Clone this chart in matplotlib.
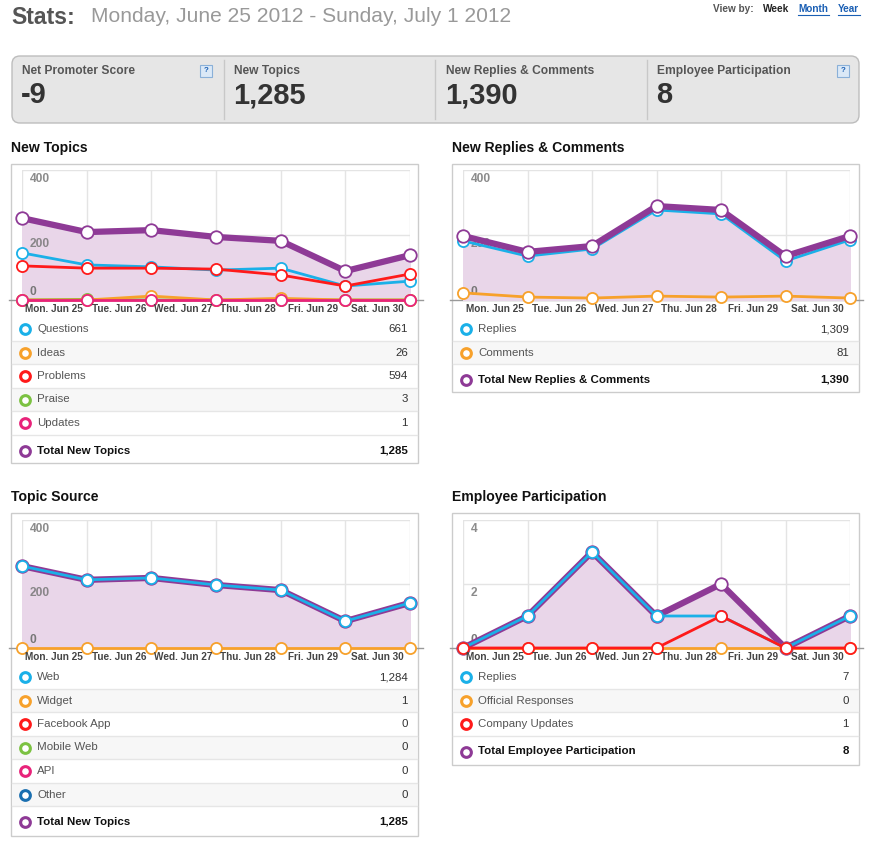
import matplotlib
matplotlib.use("Agg")
import matplotlib.pyplot as plt
from matplotlib.patches import FancyBboxPatch, Rectangle

plt.rcParams['font.family'] = ['Liberation Sans', 'DejaVu Sans']

W, H = 873, 852
days = ["Mon. Jun 25", "Tue. Jun 26", "Wed. Jun 27", "Thu. Jun 28", "Fri. Jun 29", "Sat. Jun 30"]

kpi_labels = ["Net Promoter Score", "New Topics", "New Replies & Comments", "Employee Participation"]
kpi_values = ["-9", "1,285", "1,390", "8"]

# New Topics
nt_total = [252, 209, 215, 194, 182, 89, 138]
nt_questions = [145, 108, 102, 92, 98, 43, 58]
nt_problems = [105, 98, 98, 95, 77, 43, 80]
nt_ideas = [0, 0, 12, 0, 5, 0, 0]
nt_praise = [0, 2, 0, 0, 0, 0, 0]
nt_updates = [0, 0, 0, 0, 0, 0, 0]
nt_names = ["Questions", "Ideas", "Problems", "Praise", "Updates"]
nt_counts = ["661", "26", "594", "3", "1"]

# New Replies & Comments
rc_total = [197, 148, 166, 289, 277, 135, 197]
rc_replies = [182, 135, 157, 277, 265, 120, 185]
rc_comments = [22, 9, 6, 12, 9, 12, 6]
rc_names = ["Replies", "Comments"]
rc_counts = ["1,309", "81"]

# Topic Source
ts_web = [256, 213, 219, 197, 181, 84, 141]
ts_zero = [0, 0, 0, 0, 0, 0, 0]
ts_names = ["Web", "Widget", "Facebook App", "Mobile Web", "API", "Other"]
ts_counts = ["1,284", "1", "0", "0", "0", "0"]

# Employee Participation
ep_total = [0, 1, 3, 1, 2, 0, 1]
ep_replies = [0, 1, 3, 1, 1, 0, 1]
ep_official = [0, 0, 0, 0, 0, 0, 0]
ep_company = [0, 0, 0, 0, 1, 0, 0]
ep_names = ["Replies", "Official Responses", "Company Updates"]
ep_counts = ["7", "0", "1"]

C_BLUE, C_ORANGE, C_RED, C_GREEN, C_PINK, C_PURPLE, C_DBLUE = (
    "#1ab0e8", "#f7a12b", "#ff1a1a", "#7cc242", "#e8237a", "#8e3a96", "#1a6fb0")
FILL = "#e9d6e9"

fig = plt.figure(figsize=(W / 100, H / 100), dpi=100)
bg = fig.add_axes([0, 0, 1, 1])
bg.set_xlim(0, W)
bg.set_ylim(H, 0)
bg.axis("off")


def pt(px):
    return px * 0.72


def add_px_axes(x0, y0, x1, y1):
    return fig.add_axes([x0 / W, 1 - y1 / H, (x1 - x0) / W, (y1 - y0) / H])


# header
bg.text(11, 17, "Stats:", fontsize=pt(23), fontweight="bold", color="#555555", va="center")
bg.text(91, 17, "Monday, June 25 2012 - Sunday, July 1 2012", fontsize=pt(21), color="#999999", va="center")
bg.text(713, 9, "View by:", fontsize=pt(10), fontweight="bold", color="#555555", va="center")
bg.text(763, 9, "Week", fontsize=pt(10), fontweight="bold", color="#222222", va="center")
for x0, x1, lab in [(798, 829, "Month"), (838, 860, "Year")]:
    bg.text(x0, 9, lab, fontsize=pt(10), fontweight="bold", color="#1a5fb4", va="center")
    bg.plot([x0, x1], [15, 15], color="#1a5fb4", lw=0.8)

# KPI box
bg.add_patch(FancyBboxPatch((12, 56), 847, 67, boxstyle="round,pad=0,rounding_size=8",
                            fc="#e6e6e6", ec="#bdbdbd", lw=1))
for x in [224, 435, 647]:
    bg.plot([x, x], [60, 119], color="#c8c8c8", lw=1)
for x, lab, val in zip([22, 234, 446, 657], kpi_labels, kpi_values):
    bg.text(x, 71, lab, fontsize=pt(12), fontweight="bold", color="#555555", va="center")
    bg.text(x - 1, 95, val, fontsize=pt(29), fontweight="bold", color="#333333", va="center")
for x in [206, 843]:
    bg.add_patch(Rectangle((x - 6, 65), 12, 12, fc="#dbe9f7", ec="#8ab0d8", lw=0.8))
    bg.text(x, 71, "?", fontsize=pt(8), fontweight="bold", color="#1a5fb4", ha="center", va="center")


def panel(title, bx0, by0, bx1, by1, ax_rect, ymax, yticks, series, rows,
          total_label, total_value, total_on_top=True):
    bg.text(bx0, by0 - 16, title, fontsize=pt(14), fontweight="bold", color="#111111", va="center")
    bg.add_patch(Rectangle((bx0, by0), bx1 - bx0, by1 - by0, fc="white", ec="#cccccc", lw=1))
    ax = add_px_axes(*ax_rect)
    ax.set_xlim(0, 6)
    ax.set_ylim(0, ymax)
    ax.axis("off")
    for i in range(7):
        ax.axvline(i, color="#e4e4e4", lw=1, zorder=0)
    for t in yticks[1:]:
        ax.axhline(t, color="#e4e4e4", lw=1, zorder=0)
        ax.text(0.12, t - ymax * 0.02, str(t), fontsize=pt(12), fontweight="bold",
                color="#777777", alpha=0.85, va="top", zorder=2)
    ax.text(0.12, ymax * 0.015, "0", fontsize=pt(12), fontweight="bold", color="#777777",
            va="bottom", zorder=2)
    ax.plot([-0.2, 6.2], [0, 0], color="#999999", lw=1, clip_on=False, zorder=1)
    xs = list(range(7))
    total = series[0][0]
    ax.fill_between(xs, total, 0, color=FILL, zorder=1)
    order = series[1:] + [series[0]] if total_on_top else [series[0]] + series[1:]
    for vals, col in order:
        is_total = vals is total and col == C_PURPLE
        ax.plot(xs, vals, color=col, lw=4.5 if is_total else 2, marker="o",
                ms=9 if is_total else 8, mfc="white", mec=col, mew=1.3,
                clip_on=False, zorder=3)
    for i, d in enumerate(days):
        ax.text(i + 0.5, -ymax * 0.07, d, fontsize=pt(10), fontweight="bold",
                color="#444444", ha="center", va="center")
    # legend rows
    y = ax_rect[3] + 29
    for k, (name, val, col) in enumerate(rows):
        if k % 2 == 1:
            bg.add_patch(Rectangle((bx0 + 1, y - 11.5), bx1 - bx0 - 2, 23, fc="#f7f7f7", ec="none"))
        bg.plot(bx0 + 14, y, marker="o", ms=7, mfc="white", mec=col, mew=2.2)
        bg.text(bx0 + 26, y, name, fontsize=pt(11.5), color="#555555", va="center")
        bg.text(bx1 - 10, y, val, fontsize=pt(11.5), color="#333333", va="center", ha="right")
        bg.plot([bx0 + 1, bx1 - 1], [y + 11.5, y + 11.5], color="#e6e6e6", lw=1)
        y += 23.5
    y += 4
    bg.plot(bx0 + 14, y, marker="o", ms=7, mfc="white", mec=C_PURPLE, mew=2.2)
    bg.text(bx0 + 26, y, total_label, fontsize=pt(11.5), fontweight="bold", color="#111111", va="center")
    bg.text(bx1 - 10, y, total_value, fontsize=pt(11.5), fontweight="bold", color="#111111",
            va="center", ha="right")


panel("New Topics", 11, 164, 418, 463, (22, 170, 410, 300), 400, [0, 200, 400],
      [(nt_total, C_PURPLE), (nt_praise, C_GREEN), (nt_ideas, C_ORANGE),
       (nt_questions, C_BLUE), (nt_problems, C_RED), (nt_updates, C_PINK)],
      list(zip(nt_names, nt_counts, [C_BLUE, C_ORANGE, C_RED, C_GREEN, C_PINK])),
      "Total New Topics", "1,285")

panel("New Replies & Comments", 452, 164, 859, 392, (463, 170, 850, 300), 400, [0, 200, 400],
      [(rc_total, C_PURPLE), (rc_comments, C_ORANGE), (rc_replies, C_BLUE)],
      list(zip(rc_names, rc_counts, [C_BLUE, C_ORANGE])),
      "Total New Replies & Comments", "1,390")

panel("Topic Source", 11, 513, 418, 836, (22, 520, 410, 648), 400, [0, 200, 400],
      [(ts_web, C_PURPLE), (ts_zero, C_ORANGE), (ts_web, C_BLUE)],
      list(zip(ts_names, ts_counts, [C_BLUE, C_ORANGE, C_RED, C_GREEN, C_PINK, C_DBLUE])),
      "Total New Topics", "1,285", total_on_top=False)

panel("Employee Participation", 452, 513, 859, 765, (463, 520, 850, 648), 4, [0, 2, 4],
      [(ep_total, C_PURPLE), (ep_official, C_ORANGE), (ep_replies, C_BLUE), (ep_company, C_RED)],
      list(zip(ep_names, ep_counts, [C_BLUE, C_ORANGE, C_RED])),
      "Total Employee Participation", "8", total_on_top=False)

fig.savefig("out.png", dpi=100)
